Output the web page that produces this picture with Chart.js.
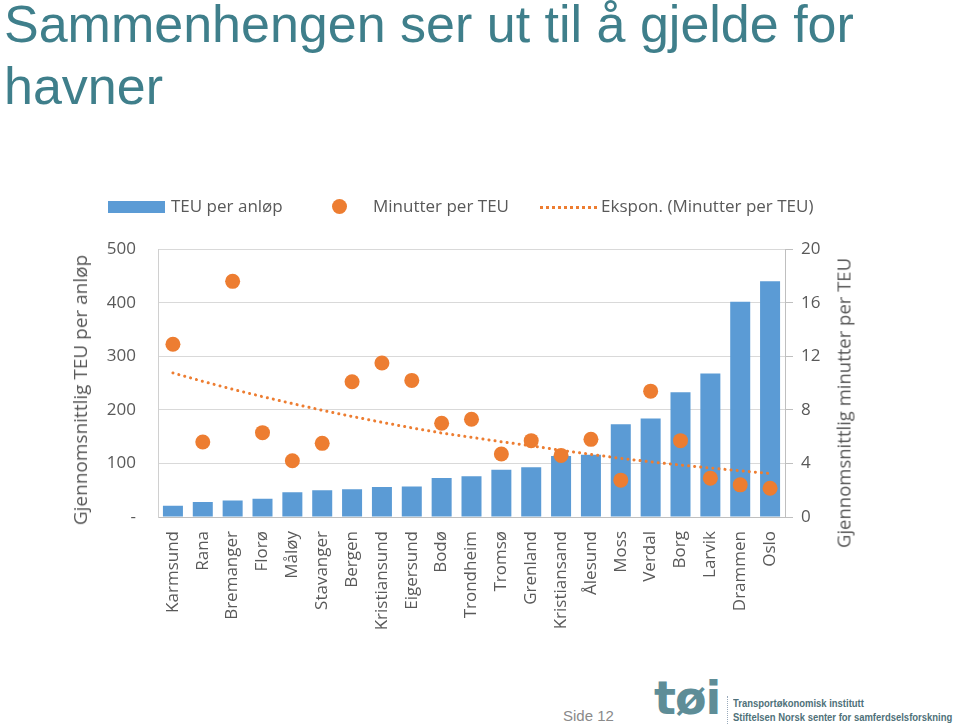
<!DOCTYPE html>
<html>
<head>
<meta charset="utf-8">
<script src="https://cdn.jsdelivr.net/npm/chart.js@4.4.1/dist/chart.umd.min.js"></script>
<style>
  html, body { margin: 0; padding: 0; background: #fff; }
  body { width: 960px; height: 727px; position: relative; overflow: hidden; font-family: "Open Sans", sans-serif; }
  #title { position: absolute; left: 4px; top: -7px; font-family: "Liberation Sans", Arial, sans-serif; font-size: 52px; line-height: 62px; color: #3f7f8b; }
  #legend { position: absolute; top: 194px; left: 0; width: 960px; height: 26px; font-size: 17px; color: #595959; }
  #legend span { position: absolute; top: 0; white-space: nowrap; }
  .ytitle { position: absolute; font-size: 19px; color: #595959; white-space: nowrap; transform: translate(-50%, -50%) rotate(-90deg); }
  #chartWrap { position: absolute; left: 0; top: 217px; width: 960px; height: 413px; }
  #footer { position: absolute; left: 0; top: 680px; width: 960px; height: 47px; }
</style>
</head>
<body>
<div id="title">Sammenhengen ser ut til å gjelde for<br>havner</div>

<div id="chartWrap"><canvas id="chart" width="960" height="413"></canvas></div>

<div id="legend">
  <span style="left:108px;top:7px;width:57px;height:12px;background:#5b9bd5;"></span>
  <span style="left:171px;">TEU per anløp</span>
  <span style="left:332px;top:5px;width:15px;height:15px;border-radius:50%;background:#ed7d31;"></span>
  <span style="left:373px;">Minutter per TEU</span>
  <span style="left:540px;top:12px;width:57px;height:0;border-top:3px dotted #ed7d31;"></span>
  <span style="left:601px;">Ekspon. (Minutter per TEU)</span>
</div>

<div class="ytitle" style="left:80px;top:390px;">Gjennomsnittlig TEU per anløp</div>
<div class="ytitle" style="left:843px;top:403px;font-size:18.5px;">Gjennomsnittlig minutter per TEU</div>

<div id="footer">
  <div style="position:absolute;left:563px;top:27px;font-family:'Liberation Sans',Arial,sans-serif;font-size:15px;color:#8a8a8a;">Side 12</div>
  <div style="position:absolute;left:654px;top:-9px;font-family:'DejaVu Sans',sans-serif;font-weight:bold;font-size:46px;letter-spacing:-1px;color:#5e8d97;">tøi</div>
  <div style="position:absolute;left:727px;top:16px;height:28px;border-left:1px dotted #9ab;"></div>
  <div style="position:absolute;left:733px;top:16px;font-family:'Liberation Sans',Arial,sans-serif;font-weight:bold;font-size:11px;line-height:14px;color:#4f7179;white-space:nowrap;transform:scaleX(0.86);transform-origin:left top;">Transportøkonomisk institutt<br>Stiftelsen Norsk senter for samferdselsforskning</div>
</div>

<script>
// Data lest av figuren
const havner = ['Karmsund', 'Rana', 'Bremanger', 'Florø', 'Måløy', 'Stavanger', 'Bergen',
  'Kristiansund', 'Eigersund', 'Bodø', 'Trondheim', 'Tromsø', 'Grenland', 'Kristiansand',
  'Ålesund', 'Moss', 'Verdal', 'Borg', 'Larvik', 'Drammen', 'Oslo'];

const teuPerAnlop = [21, 28, 31, 34, 46, 50, 52, 56, 57, 73, 76, 88, 93, 114, 116, 173, 184, 233, 268, 402, 440];

const minutterPerTeu = [12.9, 5.6, 17.6, 6.3, 4.2, 5.5, 10.1, 11.5, 10.2, 7.0, 7.3, 4.7, 5.7, 4.6, 5.8, 2.75, 9.4, 5.7, 2.9, 2.4, 2.15];

// trendlinje (ekspon.) avlest
const trendMinutter = [10.76, 10.13, 9.54, 8.99, 8.47, 7.97, 7.51, 7.07, 6.66, 6.27, 5.95,
  5.62, 5.32, 4.98, 4.68, 4.38, 4.12, 3.88, 3.66, 3.45, 3.25];

const venstreTicks = [0, 100, 200, 300, 400, 500];
const hoyreTicks = [0, 4, 8, 12, 16, 20];

const tickFarge = '#595959';
const gridFarge = '#d9d9d9';

const ctx = document.getElementById('chart').getContext('2d');
new Chart(ctx, {
  data: {
    labels: havner,
    datasets: [
      {
        type: 'line',
        label: 'Ekspon. (Minutter per TEU)',
        data: trendMinutter,
        yAxisID: 'y2',
        borderColor: '#ed7d31',
        borderWidth: 3,
        borderDash: [0.1, 6],
        borderCapStyle: 'round',
        pointRadius: 0,
        fill: false,
        order: 0
      },
      {
        type: 'line',
        label: 'Minutter per TEU',
        data: minutterPerTeu,
        yAxisID: 'y2',
        showLine: false,
        pointRadius: 7.5,
        pointBackgroundColor: '#ed7d31',
        pointBorderWidth: 0,
        order: 1
      },
      {
        type: 'bar',
        label: 'TEU per anløp',
        data: teuPerAnlop,
        yAxisID: 'y',
        backgroundColor: '#5b9bd5',
        barPercentage: 0.67,
        categoryPercentage: 1,
        order: 2
      }
    ]
  },
  options: {
    responsive: false,
    animation: false,
    maintainAspectRatio: false,
    layout: { padding: { top: 0, left: 66, right: 103, bottom: 0 } },
    plugins: {
      legend: { display: false },
      tooltip: { enabled: false }
    },
    scales: {
      x: {
        offset: true,
        grid: { display: false },
        border: { display: true, color: '#bfbfbf' },
        ticks: {
          color: tickFarge,
          font: { family: 'Open Sans', size: 17 },
          maxRotation: 90,
          minRotation: 90,
          autoSkip: false,
          padding: 6
        },
        afterFit: s => { s.height = 113; }
      },
      y: {
        position: 'left',
        min: 0,
        max: 500,
        afterBuildTicks: s => { s.ticks = venstreTicks.map(v => ({ value: v })); },
        grid: { color: gridFarge, drawTicks: false },
        border: { display: true, color: '#d0d0d0' },
        ticks: {
          color: tickFarge,
          font: { family: 'Open Sans', size: 17 },
          padding: 22,
          callback: v => v === 0 ? '-' : v
        },
        afterFit: s => { s.width = 92; }
      },
      y2: {
        position: 'right',
        min: 0,
        max: 20,
        afterBuildTicks: s => { s.ticks = hoyreTicks.map(v => ({ value: v })); },
        grid: { drawOnChartArea: false, color: '#bfbfbf', tickLength: 8 },
        border: { display: true, color: '#bfbfbf' },
        ticks: {
          color: tickFarge,
          font: { family: 'Open Sans', size: 17 },
          padding: 8
        },
        afterFit: s => { s.width = 72; }
      }
    }
  }
});
</script>
</body>
</html>
